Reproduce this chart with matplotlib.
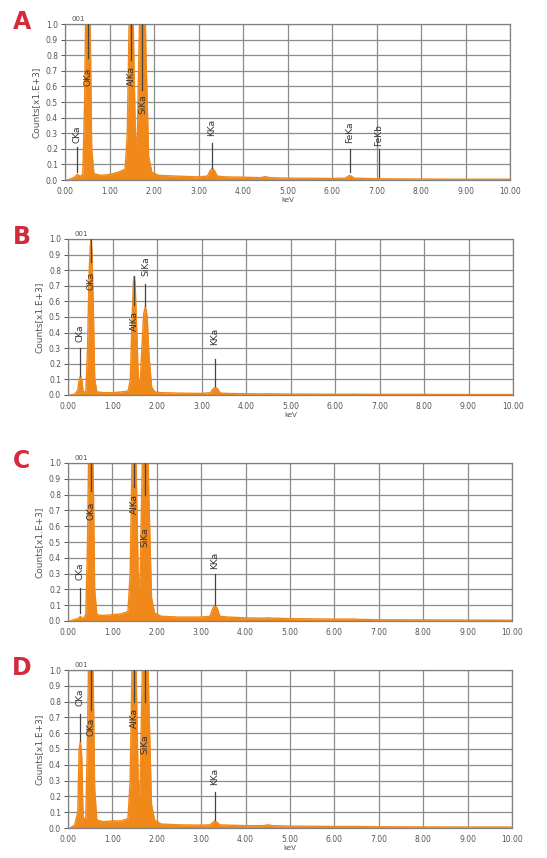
import matplotlib
matplotlib.use('Agg')
import matplotlib.pyplot as plt
from matplotlib.ticker import FormatStrFormatter

# energy axis shared by all four spectra (keV)
energy = [0.05, 0.15, 0.22, 0.25, 0.28, 0.31, 0.34, 0.40, 0.44, 0.47, 0.50, 0.52, 0.54, 0.57,
          0.60, 0.65, 0.80, 1.00, 1.20, 1.35, 1.40, 1.44, 1.47, 1.49, 1.51, 1.54, 1.58, 1.62,
          1.66, 1.70, 1.74, 1.78, 1.82, 1.88, 1.95, 2.10, 2.50, 3.00, 3.20, 3.26, 3.31, 3.36,
          3.42, 3.60, 4.00, 4.40, 4.50, 4.60, 5.00, 6.00, 6.30, 6.40, 6.50, 7.00, 8.00, 9.00, 10.00]

# counts (x1.E+3)
counts_a = [0.0, 0.01, 0.02, 0.03, 0.035, 0.03, 0.02, 0.04, 0.5, 1.2, 1.4, 1.4, 1.3, 0.9,
            0.2, 0.04, 0.03, 0.035, 0.05, 0.07, 0.3, 1.0, 1.4, 1.4, 1.4, 0.9, 0.3, 0.2,
            0.8, 1.4, 1.4, 1.4, 0.8, 0.15, 0.05, 0.03, 0.025, 0.02, 0.025, 0.06, 0.075, 0.06,
            0.025, 0.02, 0.018, 0.015, 0.022, 0.015, 0.012, 0.01, 0.012, 0.03, 0.012, 0.008, 0.006, 0.005, 0.005]
counts_b = [0.0, 0.005, 0.03, 0.10, 0.12, 0.10, 0.02, 0.02, 0.3, 0.75, 0.95, 1.0, 0.9, 0.55,
            0.1, 0.02, 0.015, 0.015, 0.02, 0.025, 0.1, 0.5, 0.72, 0.76, 0.7, 0.45, 0.1, 0.08,
            0.3, 0.52, 0.57, 0.5, 0.25, 0.05, 0.02, 0.015, 0.012, 0.01, 0.015, 0.04, 0.05, 0.04,
            0.012, 0.01, 0.008, 0.007, 0.008, 0.007, 0.006, 0.005, 0.005, 0.006, 0.005, 0.004, 0.004, 0.003, 0.003]
counts_c = [0.0, 0.01, 0.015, 0.02, 0.03, 0.02, 0.015, 0.04, 0.5, 1.2, 1.4, 1.4, 1.3, 0.9,
            0.2, 0.04, 0.035, 0.04, 0.045, 0.06, 0.3, 1.0, 1.4, 1.4, 1.4, 0.9, 0.3, 0.2,
            0.8, 1.4, 1.4, 1.4, 0.8, 0.15, 0.05, 0.03, 0.025, 0.025, 0.03, 0.08, 0.1, 0.08,
            0.03, 0.025, 0.02, 0.018, 0.02, 0.018, 0.015, 0.012, 0.012, 0.013, 0.011, 0.008, 0.007, 0.006, 0.005]
counts_d = [0.0, 0.02, 0.1, 0.5, 0.55, 0.45, 0.06, 0.06, 0.6, 1.2, 1.4, 1.4, 1.3, 0.9,
            0.25, 0.05, 0.04, 0.045, 0.045, 0.06, 0.3, 1.0, 1.4, 1.4, 1.4, 0.9, 0.3, 0.2,
            0.8, 1.4, 1.4, 1.4, 0.8, 0.15, 0.05, 0.025, 0.02, 0.018, 0.02, 0.035, 0.045, 0.035,
            0.02, 0.018, 0.015, 0.015, 0.02, 0.015, 0.012, 0.01, 0.01, 0.01, 0.01, 0.008, 0.007, 0.006, 0.006]

# peak labels: name, keV, marker line bottom, marker line top, text bottom
labels_a = [('CKa', 0.27, 0.05, 0.21, 0.24), ('OKa', 0.52, 0.78, 1.0, 0.60),
            ('AlKa', 1.49, 0.77, 1.0, 0.60), ('SiKa', 1.74, 0.58, 1.0, 0.42),
            ('KKa', 3.30, 0.08, 0.24, 0.28), ('FeKa', 6.40, 0.05, 0.20, 0.24),
            ('FeKb', 7.05, 0.02, 0.20, 0.22)]
labels_b = [('CKa', 0.27, 0.12, 0.30, 0.34), ('OKa', 0.52, 0.85, 1.0, 0.67),
            ('AlKa', 1.49, 0.58, 0.76, 0.41), ('SiKa', 1.74, 0.57, 0.71, 0.76),
            ('KKa', 3.30, 0.06, 0.23, 0.32)]
labels_c = [('CKa', 0.27, 0.05, 0.21, 0.26), ('OKa', 0.52, 0.82, 1.0, 0.64),
            ('AlKa', 1.49, 0.85, 1.0, 0.68), ('SiKa', 1.74, 0.80, 1.0, 0.47),
            ('KKa', 3.30, 0.10, 0.30, 0.33)]
labels_d = [('CKa', 0.27, 0.55, 0.72, 0.77), ('OKa', 0.52, 0.75, 1.0, 0.58),
            ('AlKa', 1.49, 0.80, 1.0, 0.63), ('SiKa', 1.74, 0.80, 1.0, 0.47),
            ('KKa', 3.30, 0.05, 0.23, 0.27)]

panels = [('A', counts_a, labels_a, [65, 24, 510, 180], True),
          ('B', counts_b, labels_b, [68, 239, 513, 395], True),
          ('C', counts_c, labels_c, [68, 463, 512, 621], False),
          ('D', counts_d, labels_d, [68, 670, 512, 828], True)]

W, H = 547, 858
orange = '#F0881A'
fig = plt.figure(figsize=(W / 100, H / 100), dpi=100)

for letter, counts, labels, box, show_xlabel in panels:
    x0, y0, x1, y1 = box
    ax = fig.add_axes([x0 / W, 1 - y1 / H, (x1 - x0) / W, (y1 - y0) / H])
    ax.fill_between(energy, counts, 0, color=orange, lw=0)
    ax.plot(energy, counts, color=orange, lw=1.0)
    ax.set_xlim(0, 10)
    ax.set_ylim(0, 1.0)
    ax.set_xticks(range(0, 11))
    ax.set_yticks([i / 10 for i in range(11)])
    ax.xaxis.set_major_formatter(FormatStrFormatter('%.2f'))
    ax.yaxis.set_major_formatter(FormatStrFormatter('%.1f'))
    ax.tick_params(labelsize=5.5, colors='#555555', length=3, width=0.7, pad=2)
    ax.tick_params(axis='x', length=0, pad=5)
    ax.grid(True, color='#8c8c8c', lw=0.9)
    ax.set_axisbelow(True)
    for s in ax.spines.values():
        s.set_color('#808080')
        s.set_linewidth(0.9)
    ax.set_ylabel('Counts[x1.E+3]', fontsize=6.5, color='#555555', labelpad=4)
    if show_xlabel:
        ax.set_xlabel('keV', fontsize=5, color='#555555', labelpad=1)
    ax.text(0.3, 1.01, '001', fontsize=5, color='#555555', ha='center', va='bottom')

    for name, e, lo, hi, ty in labels:
        ax.plot([e, e], [lo, hi], color='#444444', lw=0.9, zorder=4)
        ax.text(e, ty, name, rotation=90, fontsize=6.5, color='#333333',
                ha='center', va='bottom', zorder=5)

    fig.text(22 / W, 1 - (y0 - 2) / H, letter, fontsize=17, fontweight='bold',
             color='#D42A3C', ha='center', va='center')

fig.savefig('out.png', dpi=100)
